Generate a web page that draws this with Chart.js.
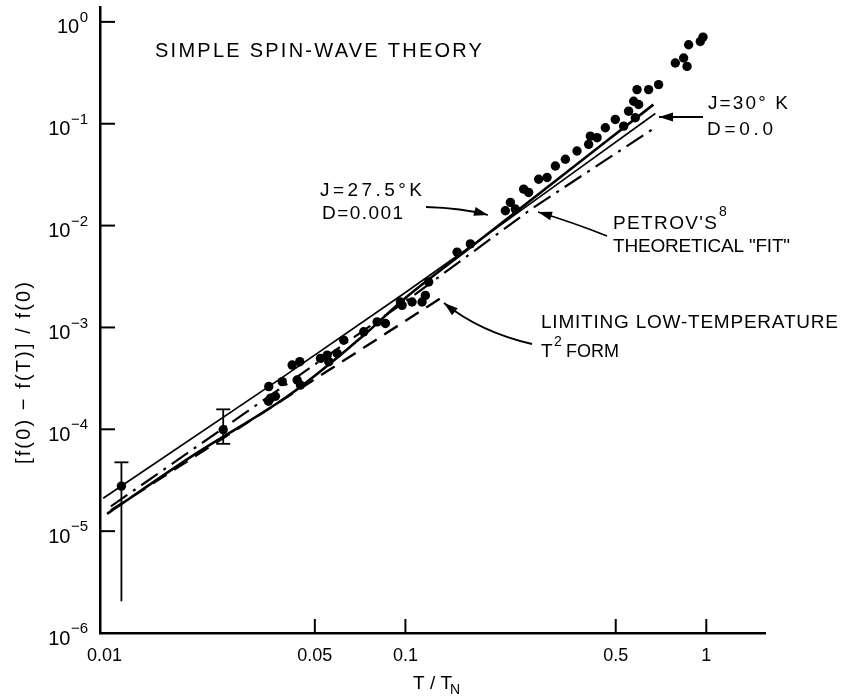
<!DOCTYPE html>
<html><head><meta charset="utf-8">
<script src="https://cdn.jsdelivr.net/npm/chart.js@4/dist/chart.umd.min.js"></script>
<style>html,body{margin:0;padding:0;background:#fff}canvas{display:block}</style>
</head><body>
<canvas id="c" width="852" height="696"></canvas>
<script>
// ---- tick labels ----
const xTickValues = [0.01, 0.05, 0.1, 0.5, 1];
const xTickLabels = ['0.01', '0.05', '0.1', '0.5', '1'];
const yTickExponents = [-6, -5, -4, -3, -2, -1, 0];

// ---- measured points (T/TN, [f(0)-f(T)]/f(0)) ----
const measT = [0.01138, 0.0248, 0.03507, 0.03698, 0.03515, 0.03896, 0.04203, 0.04455, 0.04367, 0.04478, 0.03561,
  0.0522, 0.05495, 0.05563, 0.0593, 0.06237, 0.07268, 0.08054, 0.08583, 0.09625, 0.0975, 0.1052, 0.1136, 0.1165,
  0.1195, 0.1485, 0.1644, 0.2149, 0.2319, 0.2233, 0.2472, 0.2568, 0.2772, 0.2956, 0.315, 0.3401, 0.3718, 0.4064,
  0.4117, 0.4335, 0.4618, 0.4984, 0.5313, 0.5518, 0.5735, 0.5958, 0.5807, 0.5885, 0.6429, 0.6942, 0.7888, 0.8406,
  0.8629, 0.8736, 0.9551, 0.975];
const measF = [2.77e-5, 9.9e-5, 1.887e-4, 2.111e-4, 2.627e-4, 2.938e-4, 4.272e-4, 4.61e-4, 3.047e-4, 2.723e-4, 2.018e-4,
  4.966e-4, 5.349e-4, 4.61e-4, 5.558e-4, 7.496e-4, 9.06e-4, 1.134e-3, 1.092e-3, 1.779e-3, 1.648e-3, 1.779e-3, 1.779e-3, 2.064e-3,
  2.791e-3, 5.483e-3, 6.61e-3, 1.398e-2, 1.453e-2, 1.689e-2, 2.279e-2, 2.116e-2, 2.854e-2, 2.965e-2, 3.85e-2, 4.477e-2, 5.397e-2, 6.277e-2,
  7.565e-2, 7.297e-2, 9.14e-2, 0.1102, 9.47e-2, 0.1328, 0.1664, 0.1544, 0.1145, 0.2164, 0.2164, 0.2422, 0.3947, 0.4417,
  0.3656, 0.5957, 0.6418, 0.7087];

// ---- error bars ----
const errT = [0.01138, 0.0248];
const errLow = [2.05e-6, 7.2e-5];
const errHigh = [4.74e-5, 1.57e-4];
const errBottomCap = [false, true];

// ---- theoretical curves ----
const j30T = [0.0099, 0.04, 0.1, 0.2, 0.4, 0.677];
const j30F = [2.1e-5, 3.4e-4, 2.2e-3, 9.4e-3, 4.1e-2, 0.126];
const j275T = [0.0102, 0.02, 0.04, 0.07, 0.1, 0.17, 0.3, 0.667];
const j275F = [1.48e-5, 5.7e-5, 2.05e-4, 7.6e-4, 1.95e-3, 6.6e-3, 0.0245, 0.154];
const petrovT = [0.0105, 0.1, 0.266, 0.677];
const petrovF = [1.75e-5, 1.8e-3, 0.015, 0.092];
const t2T = [0.0105, 0.135];
const t2F = [1.6e-5, 2.05e-3];

const pts = (xs, ys) => xs.map((x, i) => ({ x: x, y: ys[i] }));
const FONT = '"Liberation Sans", Arial, sans-serif';

function fitSpacing(ctx, text, width) {
  if ('letterSpacing' in ctx) ctx.letterSpacing = '0px';
  const w = ctx.measureText(text).width;
  if (width && 'letterSpacing' in ctx && text.length > 1) {
    ctx.letterSpacing = ((width - w) / (text.length - 1)).toFixed(2) + 'px';
  }
}

function spacedText(ctx, text, x, y, width, size) {
  ctx.save();
  ctx.font = size + 'px ' + FONT;
  ctx.textBaseline = 'middle';
  ctx.textAlign = 'left';
  fitSpacing(ctx, text, width);
  ctx.fillText(text, x, y);
  ctx.restore();
}

function arrow(ctx, s, c, e) {
  ctx.save();
  ctx.strokeStyle = '#000';
  ctx.fillStyle = '#000';
  ctx.lineWidth = 1.8;
  ctx.beginPath();
  ctx.moveTo(s[0], s[1]);
  ctx.quadraticCurveTo(c[0], c[1], e[0], e[1]);
  ctx.stroke();
  const ang = Math.atan2(e[1] - c[1], e[0] - c[0]);
  const L = 14, W = 4.5;
  ctx.beginPath();
  ctx.moveTo(e[0], e[1]);
  ctx.lineTo(e[0] - L * Math.cos(ang) + W * Math.sin(ang), e[1] - L * Math.sin(ang) - W * Math.cos(ang));
  ctx.lineTo(e[0] - L * Math.cos(ang) - W * Math.sin(ang), e[1] - L * Math.sin(ang) + W * Math.cos(ang));
  ctx.closePath();
  ctx.fill();
  ctx.restore();
}

const decor = {
  id: 'decor',
  afterDraw(chart) {
    const ctx = chart.ctx;
    const xs = chart.scales.x, ys = chart.scales.y;
    const area = chart.chartArea;
    ctx.save();
    ctx.strokeStyle = '#000';
    ctx.fillStyle = '#000';
    ctx.lineWidth = 2;
    // inward tick marks
    yTickExponents.forEach(e => {
      if (e === -6) return;
      const py = ys.getPixelForValue(Math.pow(10, e));
      ctx.beginPath(); ctx.moveTo(area.left, py); ctx.lineTo(area.left + 15, py); ctx.stroke();
    });
    xTickValues.forEach(v => {
      if (v === 0.01) return;
      const px = xs.getPixelForValue(v);
      ctx.beginPath(); ctx.moveTo(px, area.bottom); ctx.lineTo(px, area.bottom - 14); ctx.stroke();
    });
    // y tick labels 10^n
    yTickExponents.forEach(e => {
      const py = ys.getPixelForValue(Math.pow(10, e));
      const expStr = e === 0 ? '0' : '\u2212' + Math.abs(e);
      ctx.font = '15px ' + FONT;
      const ew = ctx.measureText(expStr).width;
      ctx.textBaseline = 'middle';
      ctx.textAlign = 'right';
      ctx.fillText(expStr, 88, py - 4);
      ctx.font = '20px ' + FONT;
      ctx.fillText('10', 88 - ew - 0.5, py + 6);
    });
    // error bars
    ctx.lineWidth = 1.8;
    errT.forEach((t, i) => {
      const px = xs.getPixelForValue(t);
      const pTop = ys.getPixelForValue(errHigh[i]);
      const pBot = ys.getPixelForValue(errLow[i]);
      ctx.beginPath(); ctx.moveTo(px, pTop); ctx.lineTo(px, pBot); ctx.stroke();
      ctx.beginPath(); ctx.moveTo(px - 7, pTop); ctx.lineTo(px + 7, pTop); ctx.stroke();
      if (errBottomCap[i]) { ctx.beginPath(); ctx.moveTo(px - 7, pBot); ctx.lineTo(px + 7, pBot); ctx.stroke(); }
    });
    // axis titles
    ctx.save();
    ctx.translate(24, 373);
    ctx.rotate(-Math.PI / 2);
    ctx.font = '20px ' + FONT;
    ctx.textBaseline = 'middle';
    ctx.textAlign = 'left';
    const yTitle = '[f(0) \u2212 f(T)] / f(0)';
    fitSpacing(ctx, yTitle, 182);
    ctx.fillText(yTitle, -91, 0);
    ctx.restore();
    ctx.font = '19px ' + FONT;
    ctx.textAlign = 'left';
    ctx.textBaseline = 'middle';
    ctx.fillText('T / T', 413, 684);
    ctx.font = '14px ' + FONT;
    ctx.fillText('N', 450, 690);
    // annotations
    spacedText(ctx, 'SIMPLE SPIN-WAVE THEORY', 155, 51, 327, 20);
    spacedText(ctx, 'J=27.5\u00B0K', 320, 191, 102, 19);
    spacedText(ctx, 'D=0.001', 322, 214, 81, 19);
    spacedText(ctx, 'J=30\u00B0 K', 708, 104, 80, 19);
    spacedText(ctx, 'D=0.0', 707, 130, 66, 19);
    spacedText(ctx, "PETROV'S", 613, 224, 104, 19);
    spacedText(ctx, '8', 719, 212, 0, 14);
    spacedText(ctx, 'THEORETICAL "FIT"', 613, 247, 177, 19);
    spacedText(ctx, 'LIMITING LOW-TEMPERATURE', 541, 323, 297, 19);
    spacedText(ctx, 'T', 541, 352, 0, 19);
    spacedText(ctx, '2', 554, 342, 0, 14);
    spacedText(ctx, 'FORM', 566, 352, 0, 18);
    // arrows
    arrow(ctx, [426, 207], [462, 208], [488, 215]);
    arrow(ctx, [703, 117], [680, 117], [659, 117]);
    arrow(ctx, [607, 236], [572, 222], [538, 212]);
    arrow(ctx, [532, 344], [480, 332], [444, 303]);
    ctx.restore();
  }
};

const lineDs = (label, xs, ys, width, dash, tension) => ({
  label: label, data: pts(xs, ys), showLine: true, pointRadius: 0, borderColor: '#000',
  borderWidth: width, borderDash: dash, tension: tension || 0, fill: false
});

new Chart(document.getElementById('c').getContext('2d'), {
  type: 'scatter',
  data: {
    datasets: [
      lineDs('J=30°K, D=0.0', j30T, j30F, 1.7, [], 0),
      lineDs('J=27.5°K, D=0.001', j275T, j275F, 2.6, [], 0.35),
      lineDs("Petrov's theoretical fit", petrovT, petrovF, 2.2, [20, 7, 3, 7], 0),
      lineDs('Limiting low-temperature T² form', t2T, t2F, 2.4, [16, 9], 0),
      { label: 'measured', data: pts(measT, measF), pointRadius: 4.7, backgroundColor: '#000', borderWidth: 0, showLine: false }
    ]
  },
  options: {
    responsive: false, animation: false, devicePixelRatio: 1,
    layout: { padding: { left: 0, right: 87, top: 7, bottom: 0 } },
    plugins: { legend: { display: false }, tooltip: { enabled: false } },
    scales: {
      x: {
        type: 'logarithmic', min: 0.00966, max: 1.567,
        afterBuildTicks: s => { s.ticks = xTickValues.map(v => ({ value: v })); },
        afterFit: s => { s.height = 63; },
        grid: { display: false, drawTicks: false },
        border: { display: true, color: '#000', width: 2.5 },
        ticks: {
          callback: v => xTickLabels[xTickValues.indexOf(v)],
          font: { family: FONT, size: 18 }, color: '#000', padding: 12, maxRotation: 0, autoSkip: false
        }
      },
      y: {
        type: 'logarithmic', min: 1e-6, max: 1.4,
        afterBuildTicks: s => { s.ticks = yTickExponents.map(e => ({ value: Math.pow(10, e) })); },
        afterFit: s => { s.width = 100; },
        grid: { display: false, drawTicks: false },
        border: { display: true, color: '#000', width: 2.5 },
        ticks: { display: false }
      }
    }
  },
  plugins: [decor]
});
</script>
</body></html>
